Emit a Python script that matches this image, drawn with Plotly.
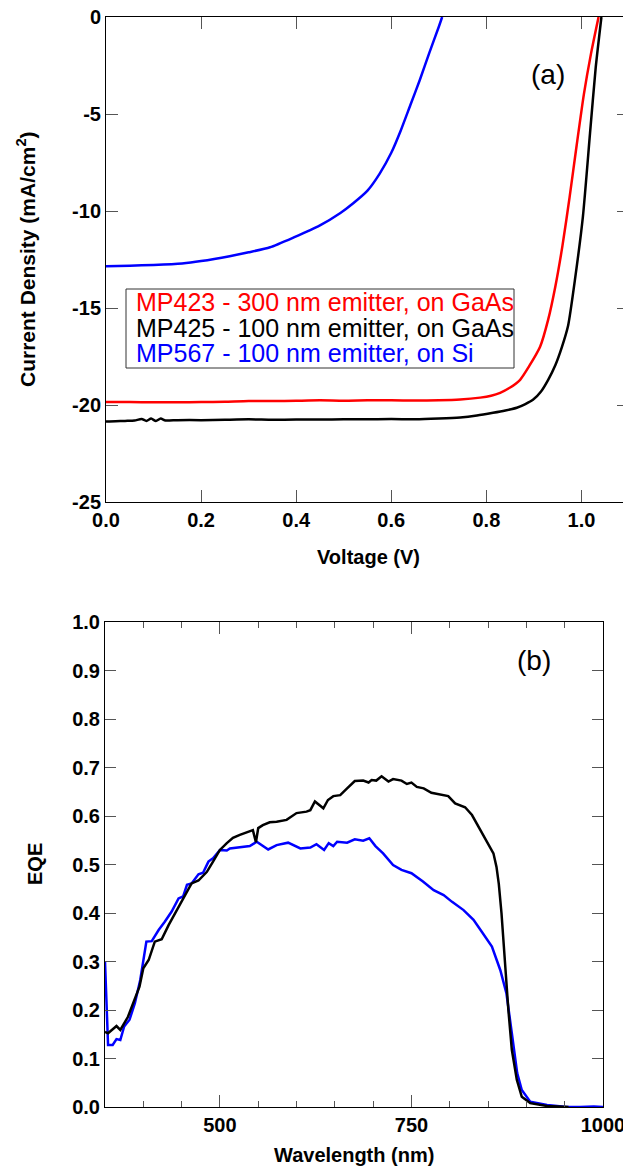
import plotly.graph_objects as go

# ---- (a) J-V curves ----
v_mp423 = [0, 0.05, 0.1, 0.15, 0.2, 0.25, 0.3, 0.35, 0.4, 0.45, 0.5, 0.55, 0.6, 0.65, 0.7,
           0.745, 0.787, 0.81, 0.829, 0.85, 0.871, 0.89, 0.913, 0.93, 0.945, 0.96, 0.975,
           0.99, 1.005, 1.02, 1.036]
j_mp423 = [-19.85, -19.85, -19.86, -19.86, -19.85, -19.83, -19.79, -19.8, -19.78, -19.76,
           -19.78, -19.76, -19.76, -19.77, -19.76, -19.72, -19.62, -19.52, -19.37, -19.1,
           -18.7, -18.0, -17.0, -15.6, -13.9, -11.8, -9.3, -6.6, -4.0, -1.9, 0.0]

v_mp425 = [0, 0.02, 0.04, 0.06, 0.075, 0.085, 0.095, 0.105, 0.115, 0.125, 0.15, 0.2, 0.25,
           0.3, 0.35, 0.4, 0.45, 0.5, 0.55, 0.6, 0.65, 0.7, 0.745, 0.78, 0.814, 0.84, 0.864,
           0.882, 0.898, 0.915, 0.93, 0.945, 0.959, 0.972, 0.986, 1.003, 1.018, 1.03, 1.042]
j_mp425 = [-20.85, -20.84, -20.82, -20.8, -20.72, -20.82, -20.7, -20.83, -20.7, -20.8,
           -20.78, -20.78, -20.76, -20.74, -20.76, -20.75, -20.75, -20.74, -20.74, -20.72,
           -20.74, -20.7, -20.64, -20.54, -20.4, -20.28, -20.14, -19.95, -19.73, -19.3,
           -18.7, -17.95, -17.0, -15.9, -13.6, -10.3, -6.0, -2.6, 0.0]

v_mp567 = [0, 0.05, 0.1, 0.16, 0.2, 0.26, 0.3, 0.345, 0.395, 0.45, 0.493, 0.52, 0.55, 0.575,
           0.6, 0.62, 0.64, 0.66, 0.68, 0.7, 0.707]
j_mp567 = [-12.85, -12.82, -12.78, -12.7, -12.58, -12.33, -12.13, -11.87, -11.36, -10.74,
           -10.1, -9.6, -8.95, -8.1, -7.0, -5.85, -4.55, -3.25, -1.85, -0.5, 0.0]

jv_ticks = [-25, -20, -15, -10, -5, 0]
jv_ticktext = ["-25", "-20", "-15", "-10", "-5", "0"]

# ---- (b) EQE ----
wl_mp425 = [350, 354, 365, 370, 380, 387, 395, 400, 407, 415, 424, 433, 446, 454, 463, 472,
            483, 491, 500, 509, 517, 526, 535, 543, 547, 550, 556, 565, 574, 587, 600, 613,
            618, 624, 635, 641, 648, 657, 666, 676, 687, 694, 698, 704, 711, 720, 726, 737,
            744, 750, 757, 766, 776, 787, 798, 807, 820, 829, 840, 848, 857, 861, 864, 867.5,
            872, 876.5, 881, 887.5, 894, 905, 927, 948, 955]
eqe_mp425 = [0.155, 0.152, 0.167, 0.159, 0.186, 0.214, 0.248, 0.286, 0.303, 0.341, 0.346,
             0.375, 0.413, 0.434, 0.461, 0.467, 0.485, 0.506, 0.530, 0.544, 0.555, 0.561,
             0.567, 0.571, 0.546, 0.575, 0.581, 0.587, 0.588, 0.592, 0.606, 0.609, 0.612,
             0.630, 0.616, 0.633, 0.641, 0.643, 0.657, 0.672, 0.673, 0.669, 0.674, 0.673,
             0.682, 0.671, 0.676, 0.673, 0.666, 0.669, 0.660, 0.657, 0.648, 0.645, 0.641,
             0.626, 0.618, 0.602, 0.571, 0.550, 0.523, 0.495, 0.460, 0.400, 0.297, 0.200,
             0.118, 0.056, 0.021, 0.008, 0.002, 0.000, 0.000]

wl_mp567 = [350, 354, 360, 365, 370, 375, 382, 389, 396, 400, 404, 411, 420, 428, 437, 446,
            452, 457, 463, 472, 478, 485, 491, 500, 509, 513, 526, 539, 548, 555, 563, 574,
            589, 605, 618, 626, 636, 642, 648, 653, 666, 676, 687, 695, 703, 713, 726, 737,
            750, 765, 779, 792, 803, 818, 831, 842, 855, 866, 874, 881, 888, 894, 905, 927,
            953, 970, 988, 1000]
eqe_mp567 = [0.300, 0.128, 0.128, 0.140, 0.138, 0.166, 0.180, 0.214, 0.262, 0.303, 0.341,
             0.342, 0.365, 0.382, 0.403, 0.430, 0.434, 0.458, 0.461, 0.480, 0.483, 0.506,
             0.513, 0.530, 0.529, 0.533, 0.535, 0.538, 0.547, 0.540, 0.531, 0.540, 0.545,
             0.533, 0.535, 0.542, 0.530, 0.544, 0.538, 0.547, 0.545, 0.552, 0.549, 0.554,
             0.538, 0.523, 0.499, 0.489, 0.482, 0.465, 0.447, 0.437, 0.423, 0.406, 0.386,
             0.361, 0.331, 0.282, 0.234, 0.152, 0.070, 0.035, 0.011, 0.004, 0.000, 0.000,
             0.001, 0.000]

legend_labels = ["MP423 - 300 nm emitter, on GaAs",
                 "MP425 - 100 nm emitter, on GaAs",
                 "MP567 - 100 nm emitter, on Si"]
colors = ["#ff0000", "#000000", "#0000ff"]

# the page body puts the figure 8px in from the window corner, so the figure
# is made 8px smaller and positions below are given in window pixels
OFF = 8
W, H = 631 - OFF, 1167 - OFF
FONT = "Liberation Sans, Arial, Helvetica, sans-serif"


def px(x):
    return (x - OFF) / W


def py(y):
    return 1 - (y - OFF) / H


fig = go.Figure()

iv_line = dict(width=2.5, shape="spline", smoothing=0.6)
fig.add_trace(go.Scatter(x=v_mp423, y=j_mp423, mode="lines", line=dict(color=colors[0], **iv_line),
                         xaxis="x", yaxis="y"))
fig.add_trace(go.Scatter(x=v_mp425, y=j_mp425, mode="lines", line=dict(color=colors[1], **iv_line),
                         xaxis="x", yaxis="y"))
fig.add_trace(go.Scatter(x=v_mp567, y=j_mp567, mode="lines", line=dict(color=colors[2], **iv_line),
                         xaxis="x", yaxis="y"))

fig.add_trace(go.Scatter(x=wl_mp567, y=eqe_mp567, mode="lines", line=dict(color=colors[2], width=2.5),
                         xaxis="x2", yaxis="y2"))
fig.add_trace(go.Scatter(x=wl_mp425, y=eqe_mp425, mode="lines", line=dict(color=colors[1], width=2.5),
                         xaxis="x2", yaxis="y2"))

axis_common = dict(showgrid=False, zeroline=False, showline=True, linecolor="black", linewidth=1,
                   mirror="ticks", ticks="inside", tickcolor="#555", tickwidth=1, automargin=False,
                   ticklabeloverflow="allow",
                   tickfont=dict(family=FONT, size=20, color="black", weight="bold"))

fig.update_layout(
    width=W, height=H,
    margin=dict(l=0, r=0, t=0, b=0, autoexpand=False),
    paper_bgcolor="white", plot_bgcolor="white",
    showlegend=False,
    xaxis=dict(domain=[px(106), px(629)], range=[0, 1.1], tickvals=[0, 0.2, 0.4, 0.6, 0.8, 1.0],
               tickformat=".1f", ticklen=12, anchor="y", **axis_common),
    yaxis=dict(domain=[py(502), py(17)], range=[-25, 0], tickvals=jv_ticks, ticktext=jv_ticktext,
               ticklen=12, anchor="x", **axis_common),
    xaxis2=dict(domain=[px(105), px(603)], range=[350, 1000], tickvals=[500, 750, 1000],
                ticklen=12, anchor="y2",
                minor=dict(dtick=50, tick0=0, ticks="inside", ticklen=6, tickcolor="#555"),
                **axis_common),
    yaxis2=dict(domain=[py(1107), py(622)], range=[0, 1.0], dtick=0.1, tickformat=".1f",
                ticklen=11, anchor="x2", **axis_common),
)

annotations = [
    dict(text="<b>Current Density (mA/cm<sup>2</sup>)</b>", x=px(26), y=py(259), textangle=-90, size=21),
    dict(text="<b>Voltage (V)</b>", x=px(368), y=py(557), size=20),
    dict(text="<b>EQE</b>", x=px(35), y=py(864), textangle=-90, size=20),
    dict(text="<b>Wavelength (nm)</b>", x=px(354), y=py(1155), size=20),
]
for a in annotations:
    size = a.pop("size")
    a.update(xref="paper", yref="paper", showarrow=False, xanchor="center", yanchor="middle",
             font=dict(family=FONT, size=size, color="black"))
    fig.add_annotation(**a)

fig.add_annotation(text="(a)", x=px(567), y=py(57), xref="paper", yref="paper", showarrow=False,
                   font=dict(family=FONT, size=28, color="black"))
fig.add_annotation(text="(b)", x=px(553), y=py(660), xref="paper", yref="paper", showarrow=False,
                   font=dict(family=FONT, size=28, color="black"))

# legend box with coloured text lines
fig.add_shape(type="rect", xref="paper", yref="paper", x0=px(126), x1=px(514), y0=py(368), y1=py(289),
              line=dict(color="#333", width=1), fillcolor="white", layer="above")
for label, color, yc in zip(legend_labels, colors, [302, 328, 353]):
    fig.add_annotation(text=label, x=px(134), y=py(yc), xref="paper", yref="paper", showarrow=False,
                       xanchor="left", yanchor="middle",
                       font=dict(family=FONT, size=25, color=color))

fig.write_html("out.html")
